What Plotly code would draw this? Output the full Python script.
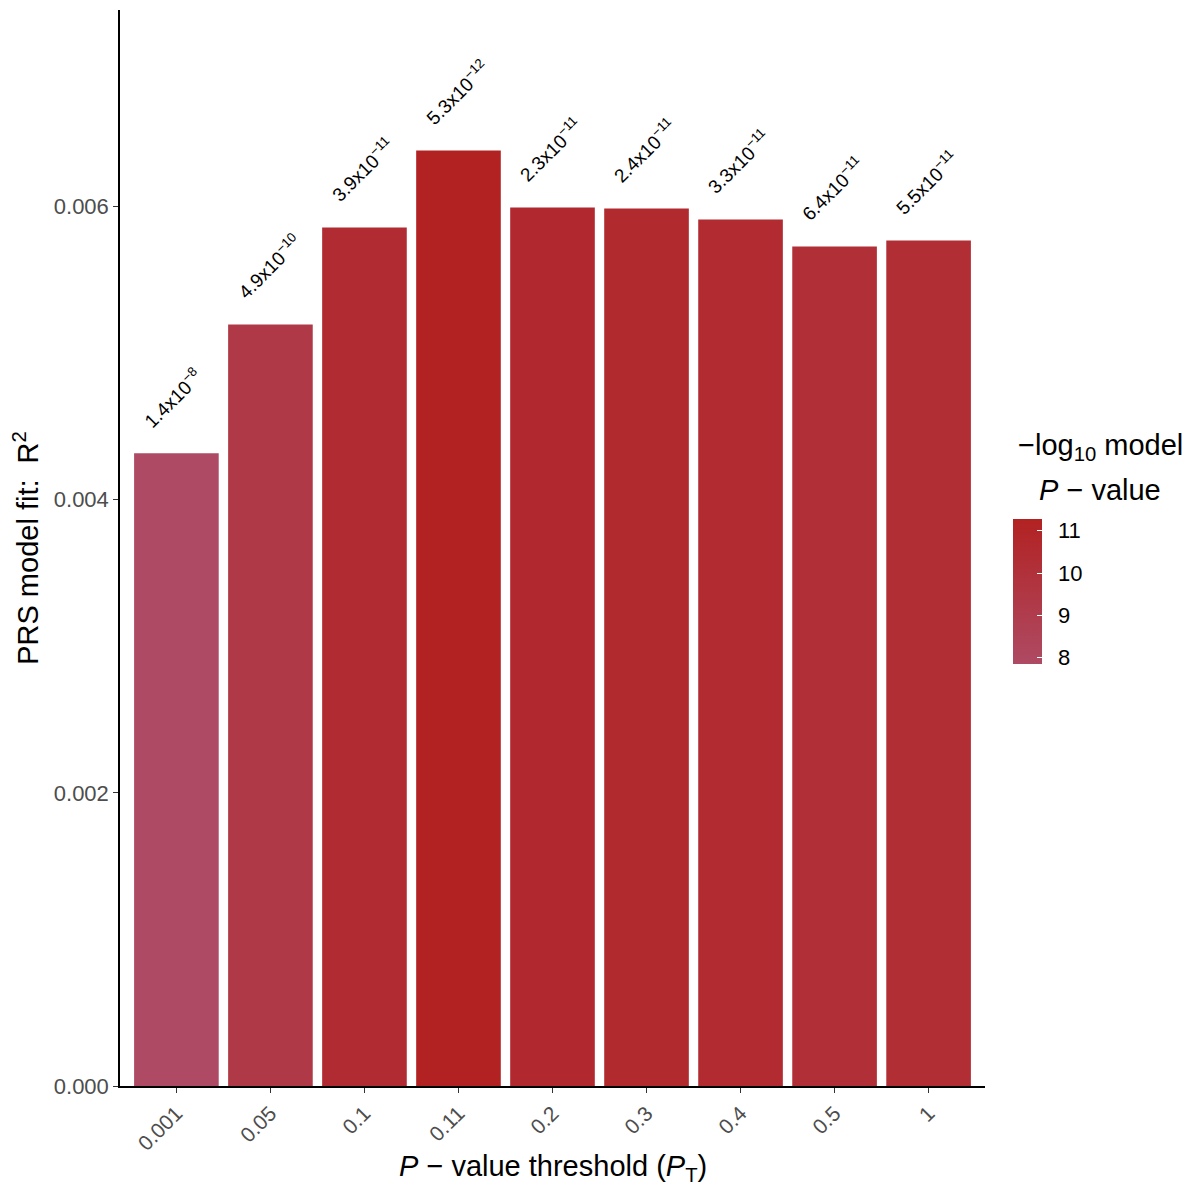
import numpy as np
import plotly.graph_objects as go

thresholds = ["0.001", "0.05", "0.1", "0.11", "0.2", "0.3", "0.4", "0.5", "1"]
r2 = [0.004316, 0.005195, 0.005857, 0.006382, 0.005993, 0.005986, 0.005911, 0.005727, 0.005768]
p_mant = [1.4, 4.9, 3.9, 5.3, 2.3, 2.4, 3.3, 6.4, 5.5]
p_exp = [-8, -10, -11, -12, -11, -11, -11, -11, -11]
cbar_ticks = [8, 9, 10, 11]

pvals = [m * 10.0 ** e for m, e in zip(p_mant, p_exp)]
neglog = [-np.log10(p) for p in pvals]
labels = [f"{m}x10<sup>\u2212{abs(e)}</sup>" for m, e in zip(p_mant, p_exp)]

FONT = "Liberation Sans, Arial, sans-serif"
CSCALE = [[0, "#AE4A63"], [1, "#B22222"]]

cb_common = dict(
    x=1.032, xanchor="left", xref="paper", xpad=0,
    y=0.4596, yanchor="middle", ypad=0,
    len=145, lenmode="pixels",
    thickness=29, thicknessmode="pixels",
    outlinewidth=0,
    tickvals=cbar_ticks,
    title=dict(text=""),
)

fig = go.Figure()
fig.add_trace(go.Bar(
    x=thresholds, y=r2, width=0.9,
    marker=dict(
        color=neglog, colorscale=CSCALE,
        cmin=min(neglog), cmax=max(neglog),
        line=dict(width=0),
        showscale=True,
        colorbar=dict(
            **cb_common,
            ticks="outside", ticklen=12, tickcolor="rgba(0,0,0,0)",
            tickfont=dict(size=22, color="black", family=FONT),
        ),
    ),
    showlegend=False,
    hoverinfo="skip",
))

# overlay colorbar carrying the white in-bar tick marks
fig.add_trace(go.Scatter(
    x=thresholds, y=r2, mode="markers",
    marker=dict(
        color=neglog, colorscale=CSCALE,
        cmin=min(neglog), cmax=max(neglog),
        opacity=0, size=1,
        showscale=True,
        colorbar=dict(
            **cb_common,
            ticks="inside", ticklen=5, tickcolor="white", tickwidth=1.2,
            showticklabels=False,
        ),
    ),
    showlegend=False,
    hoverinfo="skip",
))

for i, (v, lab) in enumerate(zip(r2, labels)):
    fig.add_annotation(
        x=i, y=v, text=lab, showarrow=False, textangle=-45,
        xanchor="left", yanchor="bottom", xshift=-41, yshift=19,
        font=dict(size=19, color="black", family=FONT),
    )

fig.add_annotation(x=1.133, y=0.594, xref="paper", yref="paper",
                   text="\u2212log<sub>10</sub> model", showarrow=False,
                   xanchor="center", yanchor="middle",
                   font=dict(size=29, color="black", family=FONT))
fig.add_annotation(x=1.133, y=0.554, xref="paper", yref="paper",
                   text="<i>P</i> \u2212 value", showarrow=False,
                   xanchor="center", yanchor="middle",
                   font=dict(size=29, color="black", family=FONT))

# x-axis title
fig.add_annotation(x=0.5, y=-0.0765, xref="paper", yref="paper",
                   text="<i>P</i> \u2212 value threshold (<i>P</i><sub>T</sub>)",
                   showarrow=False, xanchor="center", yanchor="middle",
                   font=dict(size=29, color="black", family=FONT))

fig.update_layout(
    width=1182, height=1178,
    margin=dict(l=112, r=205, t=2, b=100, autoexpand=False),
    paper_bgcolor="white", plot_bgcolor="white",
    font=dict(family=FONT),
    xaxis=dict(
        type="category", range=[-0.6, 8.6],
        showline=True, linecolor="black", linewidth=1.5,
        ticks="outside", ticklen=5, tickcolor="#333333", tickwidth=1.2,
        tickangle=-45, tickfont=dict(size=21, color="#4D4D4D"),
        showgrid=False, zeroline=False,
    ),
    yaxis=dict(
        range=[0, 0.00734], dtick=0.002, tick0=0, tickformat=".3f",
        showline=True, linecolor="black", linewidth=1.5,
        ticks="outside", ticklen=5, tickcolor="#333333", tickwidth=1.2,
        tickfont=dict(size=22, color="#4D4D4D"),
        showgrid=False, zeroline=False,
        title=dict(text="PRS model fit:  R<sup>2</sup>",
                   font=dict(size=29, color="black"), standoff=8),
    ),
)

fig.write_html("out.html")
